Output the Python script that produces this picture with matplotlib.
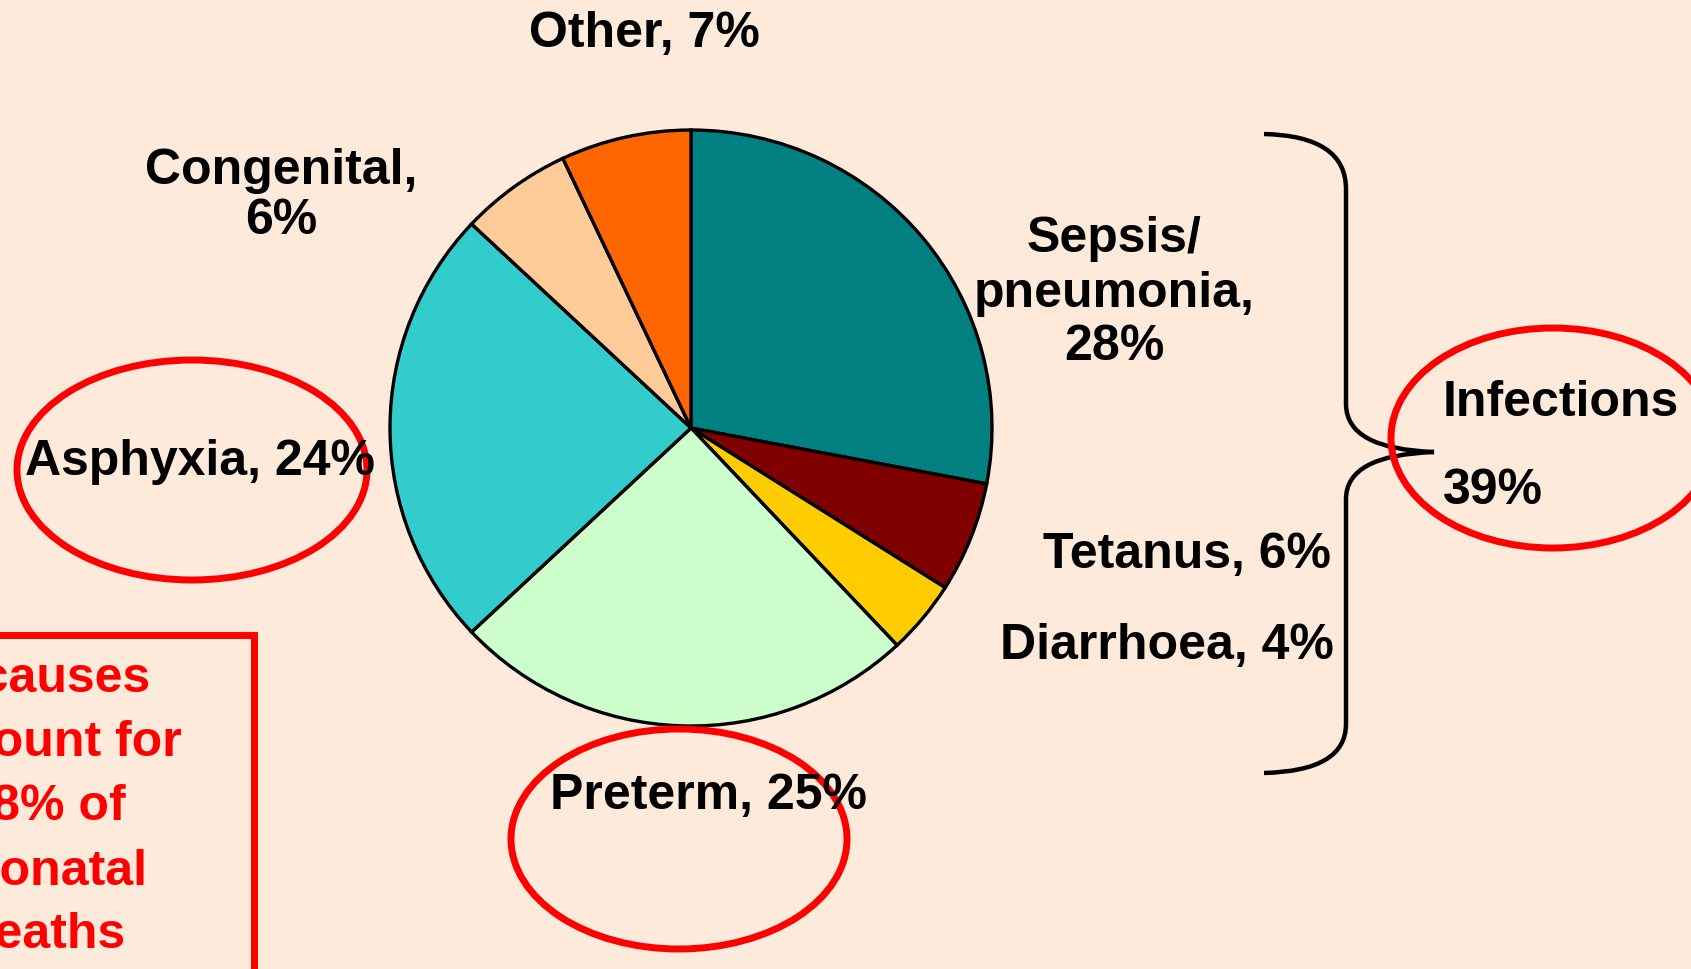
import matplotlib.pyplot as plt
from matplotlib.patches import Ellipse, Rectangle, PathPatch
from matplotlib.path import Path

# slices, clockwise from 12 o'clock
causes = ["Sepsis/\npneumonia", "Tetanus", "Diarrhoea", "Preterm", "Asphyxia", "Congenital", "Other"]
shares = [28, 6, 4, 25, 24, 6, 7]
slice_colors = ["#008080", "#800000", "#FFCC00", "#CCFFCC", "#33CCCC", "#FFCC99", "#FF6600"]

infections_total = 39
box_lines = ["3 causes", "account for", "88% of", "neonatal", "deaths"]

bg = "#FDEADB"
font = dict(family="Liberation Sans", weight="bold", size=36)
W, H = 1691, 970

fig = plt.figure(figsize=(W / 100, H / 100), dpi=100, facecolor=bg)
ax = fig.add_axes([0, 0, 1, 1])
ax.set_facecolor(bg)
ax.set_xlim(0, W)
ax.set_ylim(H, 0)
ax.axis("off")

# pie in its own axes (slightly wider than tall, like the original)
cx, cy, rx, ry = 691, 429, 301, 298
m = 1.03
pax = fig.add_axes([(cx - rx * m) / W, (H - cy - ry * m) / H, 2 * rx * m / W, 2 * ry * m / H])
pax.pie(shares, colors=slice_colors, startangle=90, counterclock=False, radius=1,
        wedgeprops=dict(edgecolor="black", linewidth=2.4))
pax.set_aspect("auto")
pax.set_xlim(-m, m)
pax.set_ylim(-m, m)
pax.axis("off")

# overlay axes for labels and marks, above the pie
ov = fig.add_axes([0, 0, 1, 1])
ov.set_xlim(0, W)
ov.set_ylim(H, 0)
ov.axis("off")

lab = {c: f"{c}, {v}%" for c, v in zip(causes, shares)}
ov.text(644, 47, lab["Other"], ha="center", va="baseline", **font)
ov.text(281, 184, "Congenital,", ha="center", va="baseline", **font)
ov.text(281, 234, f"{shares[5]}%", ha="center", va="baseline", **font)
for txt, y in zip(["Sepsis/", "pneumonia,", f"{shares[0]}%"], [252, 307, 360]):
    ov.text(1114, y, txt, ha="center", va="baseline", zorder=5, **font)
ov.text(1331, 568, lab["Tetanus"], ha="right", va="baseline", **font)
ov.text(1334, 659, lab["Diarrhoea"], ha="right", va="baseline", **font)
ov.text(550, 809, lab["Preterm"], ha="left", va="baseline", zorder=5, **font)
ov.text(25, 475, lab["Asphyxia"], ha="left", va="baseline", zorder=5, **font)
ov.text(1443, 416, "Infections", ha="left", va="baseline", zorder=5, **font)
ov.text(1443, 504, f"{infections_total}%", ha="left", va="baseline", zorder=5, **font)

# red highlight ellipses
for (ex, ey, w, h) in [(192, 471, 350, 220), (679, 840, 336, 220), (1553, 439, 324, 220)]:
    ov.add_patch(Ellipse((ex, ey), w, h, fill=False, edgecolor="red", linewidth=5, zorder=3))

# red box on the left
ov.add_patch(Rectangle((-300, 636), 554, 400, fill=False, edgecolor="red", linewidth=5, zorder=3))
for txt, y in zip(box_lines, [692, 756, 820, 885, 948]):
    ov.text(45, y, txt, ha="center", va="baseline", color="red", **font)

# curly bracket grouping the infections
verts = [(1264, 135), (1346, 137), (1346, 190),
         (1346, 405),
         (1346, 450), (1434, 453),
         (1346, 456), (1346, 500),
         (1346, 725),
         (1346, 772), (1264, 774)]
codes = [Path.MOVETO, Path.CURVE3, Path.CURVE3,
         Path.LINETO,
         Path.CURVE3, Path.CURVE3,
         Path.CURVE3, Path.CURVE3,
         Path.LINETO,
         Path.CURVE3, Path.CURVE3]
ov.add_patch(PathPatch(Path(verts, codes), fill=False, edgecolor="black", linewidth=3.2, zorder=2))

fig.savefig("out.png", dpi=100, facecolor=bg)
